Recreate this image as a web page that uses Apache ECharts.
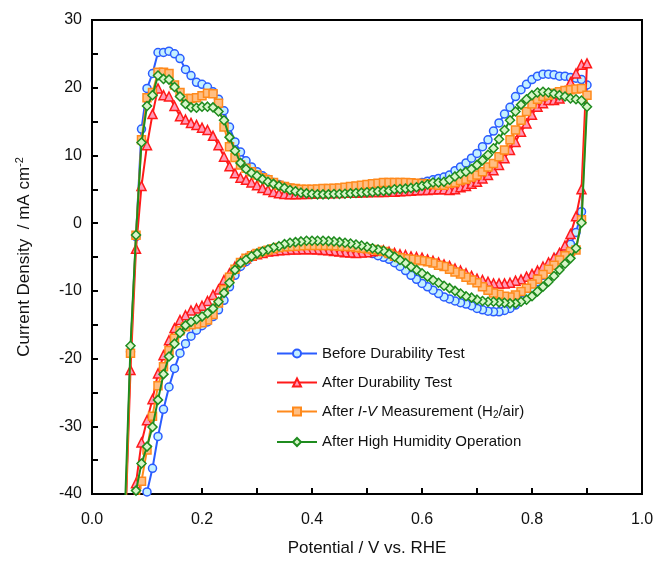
<!DOCTYPE html>
<html>
<head>
<meta charset="utf-8">
<script src="https://cdn.jsdelivr.net/npm/echarts@6/dist/echarts.min.js"></script>
<style>html,body{margin:0;padding:0;background:#fff;}#c{width:658px;height:563px;}</style>
</head>
<body>
<div id="c"></div>
<script>
// Potential grids (V vs. RHE)
var potAnodic = [0.06,0.07,0.08,0.09,0.10,0.11,0.12,0.13,0.14,0.15,0.16,0.17,0.18,0.19,0.20,0.21,0.22,0.23,0.24,0.25,0.26,0.27,0.28,0.29,0.30,0.31,0.32,0.33,0.34,0.35,0.36,0.37,0.38,0.39,0.40,0.41,0.42,0.43,0.44,0.45,0.46,0.47,0.48,0.49,0.50,0.51,0.52,0.53,0.54,0.55,0.56,0.57,0.58,0.59,0.60,0.61,0.62,0.63,0.64,0.65,0.66,0.67,0.68,0.69,0.70,0.71,0.72,0.73,0.74,0.75,0.76,0.77,0.78,0.79,0.80,0.81,0.82,0.83,0.84,0.85,0.86,0.87,0.88,0.89,0.90];
var potCathodic = [0.89,0.88,0.87,0.86,0.85,0.84,0.83,0.82,0.81,0.80,0.79,0.78,0.77,0.76,0.75,0.74,0.73,0.72,0.71,0.70,0.69,0.68,0.67,0.66,0.65,0.64,0.63,0.62,0.61,0.60,0.59,0.58,0.57,0.56,0.55,0.54,0.53,0.52,0.51,0.50,0.49,0.48,0.47,0.46,0.45,0.44,0.43,0.42,0.41,0.40,0.39,0.38,0.37,0.36,0.35,0.34,0.33,0.32,0.31,0.30,0.29,0.28,0.27,0.26,0.25,0.24,0.23,0.22,0.21,0.20,0.19,0.18,0.17,0.16,0.15,0.14,0.13,0.12,0.11,0.10,0.09,0.08,0.07];

// Current density (mA cm-2)
var beforeAnodic = [-45,-19,-2,13.9,19.9,22.1,25.2,25.2,25.4,25.0,24.3,22.7,21.8,20.8,20.5,20.1,19.4,18.3,16.6,14.2,12.0,10.5,9.2,8.3,7.6,7.0,6.5,6.0,5.7,5.4,5.2,5.0,4.9,4.8,4.7,4.7,4.7,4.7,4.7,4.7,4.8,4.8,4.9,4.9,5.0,5.0,5.1,5.1,5.2,5.3,5.4,5.5,5.6,5.8,6.0,6.2,6.4,6.6,6.8,7.1,7.75,8.3,8.9,9.6,10.3,11.3,12.3,13.6,14.8,16.1,17.1,18.7,19.7,20.5,21.2,21.7,22.0,22.0,21.9,21.7,21.7,21.5,21.4,21.2,20.4];
var beforeCathodic = [1.7,-1.4,-3.1,-4.1,-4.9,-5.7,-6.7,-7.7,-8.65,-9.6,-10.5,-11.4,-12.1,-12.6,-12.9,-13.1,-13.1,-13.0,-12.8,-12.6,-12.2,-11.95,-11.75,-11.5,-11.2,-10.9,-10.4,-9.9,-9.4,-8.9,-8.3,-7.7,-7.0,-6.4,-5.84,-5.35,-5.05,-4.8,-4.5,-4.3,-4.1,-3.9,-3.7,-3.55,-3.4,-3.3,-3.2,-3.15,-3.1,-3.1,-3.1,-3.15,-3.2,-3.3,-3.45,-3.6,-3.8,-4.0,-4.3,-4.6,-5.0,-5.7,-6.4,-7.7,-9.4,-11.4,-12.8,-13.8,-14.6,-15.15,-15.8,-16.7,-17.8,-19.2,-21.45,-24.2,-27.5,-31.5,-36.2,-39.7,-44,-48,-52];

var durAnodic = [-46,-21.7,-3.8,5.5,11.5,16.1,19.9,18.9,18.7,17.3,15.8,15.3,14.8,14.5,14.1,13.75,12.9,11.5,9.8,8.4,7.35,6.7,6.4,6.0,5.6,5.2,4.9,4.6,4.4,4.3,4.25,4.25,4.3,4.3,4.35,4.4,4.4,4.4,4.45,4.45,4.5,4.5,4.5,4.55,4.55,4.6,4.6,4.6,4.65,4.65,4.7,4.75,4.8,4.85,4.9,4.9,4.95,5.0,5.0,4.9,5.0,5.3,5.5,5.8,6.1,6.6,7.1,7.8,8.6,9.6,10.8,12.0,13.5,14.7,16.0,17.2,17.7,18.2,18.2,18.4,19.5,20.8,22.1,23.4,23.6];
var durCathodic = [5.0,1.0,-1.6,-3.3,-4.4,-5.1,-5.8,-6.4,-7.0,-7.5,-7.9,-8.3,-8.5,-8.8,-8.9,-8.9,-8.9,-8.65,-8.4,-8.2,-7.8,-7.4,-7.0,-6.7,-6.3,-6.1,-5.8,-5.55,-5.35,-5.1,-5.0,-4.9,-4.7,-4.6,-4.4,-4.2,-4.0,-4.05,-4.15,-4.3,-4.35,-4.4,-4.35,-4.3,-4.2,-4.1,-4.0,-3.95,-3.9,-3.85,-3.85,-3.85,-3.9,-3.9,-3.95,-4.0,-4.1,-4.2,-4.4,-4.6,-4.8,-5.2,-5.7,-6.4,-7.4,-8.4,-9.8,-10.6,-11.5,-12.2,-12.6,-12.9,-13.6,-14.3,-15.5,-17.3,-19.5,-22.2,-26.0,-29.1,-32.4,-38.4,-45];

var ivAnodic = [-45,-19.2,-1.8,12.3,18.5,19.3,22.3,22.3,22.1,20.4,19.3,18.4,18.4,18.5,18.8,19.2,19.1,17.7,14.2,11.3,9.7,8.6,8.1,7.6,7.1,6.7,6.4,6.0,5.6,5.4,5.2,5.1,5.0,5.0,5.0,5.05,5.1,5.1,5.15,5.2,5.3,5.4,5.5,5.6,5.7,5.8,5.9,6.0,6.0,6.0,6.0,6.0,5.95,5.9,5.85,5.8,5.7,5.6,5.6,5.9,6.0,6.3,6.5,6.8,7.1,7.6,8.3,8.8,9.8,10.8,12.3,13.75,15.2,16.5,17.6,18.3,18.7,18.9,19.2,19.4,19.6,19.7,19.8,19.9,18.9];
var ivCathodic = [0.5,-3.97,-4.2,-4.8,-5.45,-6.2,-6.8,-7.6,-8.3,-9.0,-9.6,-10.1,-10.6,-10.9,-10.8,-10.5,-10.3,-9.9,-9.4,-8.8,-8.4,-8.0,-7.5,-7.2,-6.8,-6.4,-6.2,-5.9,-5.7,-5.55,-5.45,-5.35,-5.25,-5.1,-4.9,-4.5,-4.2,-4.0,-3.9,-3.8,-3.7,-3.6,-3.5,-3.45,-3.4,-3.35,-3.3,-3.3,-3.3,-3.3,-3.3,-3.35,-3.4,-3.45,-3.5,-3.6,-3.8,-4.0,-4.2,-4.5,-4.8,-5.2,-5.8,-6.8,-8.0,-9.8,-11.8,-13.5,-14.3,-14.7,-14.9,-15.0,-15.3,-15.9,-17.0,-18.8,-21.2,-24.0,-28.5,-33.5,-38.1,-43,-48];

var humAnodic = [-42,-18.1,-1.75,11.9,17.3,18.9,21.8,21.3,21.2,20.1,18.7,17.6,17.1,17.05,17.2,17.2,17.1,16.5,15.2,12.7,10.7,8.9,8.0,7.4,7.0,6.5,6.1,5.8,5.5,5.2,4.9,4.7,4.5,4.4,4.3,4.25,4.25,4.25,4.3,4.3,4.35,4.4,4.45,4.5,4.55,4.6,4.7,4.75,4.8,5.0,5.05,5.1,5.2,5.3,5.5,5.7,6.0,6.0,6.1,6.4,6.9,7.3,7.6,8.0,8.6,9.3,10.1,11.05,12.4,13.75,15.2,16.5,17.5,18.3,18.9,19.3,19.4,19.3,19.1,18.9,18.7,18.4,18.3,18.1,17.2];
var humCathodic = [0.06,-3.7,-5.2,-6.0,-6.9,-7.8,-8.65,-9.4,-10.1,-10.8,-11.3,-11.6,-11.85,-11.85,-11.75,-11.7,-11.6,-11.6,-11.5,-11.3,-11.0,-10.8,-10.4,-10.0,-9.6,-9.25,-8.8,-8.4,-7.9,-7.4,-6.9,-6.45,-5.9,-5.45,-4.95,-4.5,-4.07,-3.9,-3.7,-3.5,-3.3,-3.15,-3.0,-2.9,-2.8,-2.7,-2.65,-2.6,-2.6,-2.6,-2.6,-2.7,-2.8,-2.9,-3.1,-3.4,-3.6,-3.9,-4.2,-4.5,-4.9,-5.4,-5.9,-6.9,-8.8,-10.3,-11.6,-12.6,-13.3,-13.8,-14.2,-14.6,-15.1,-16.2,-17.8,-19.7,-22.3,-26.1,-30.1,-33.0,-35.5,-39.5,-45];

var seriesNames = ['Before Durability Test','After Durability Test','After I-V Measurement (H2/air)','After High Humidity Operation'];
var xTicks = [0.0,0.2,0.4,0.6,0.8,1.0];
var yTicks = [-40,-30,-20,-10,0,10,20,30];

function loop(an, ca) {
  var d = [];
  for (var i = 0; i < potAnodic.length; i++) d.push([potAnodic[i], an[i]]);
  for (var j = 0; j < potCathodic.length; j++) d.push([potCathodic[j], ca[j]]);
  return d;
}

var styles = [
  {line:'#2a5cff', fill:'#c4f0ff', symbol:'circle', size:8},
  {line:'#ff1a1a', fill:'#ff9ab8', symbol:'triangle', size:9},
  {line:'#ff8a1c', fill:'#ffbe82', symbol:'rect', size:8},
  {line:'#1f8c1f', fill:'#d8f5c8', symbol:'diamond', size:9}
];
var datas = [loop(beforeAnodic,beforeCathodic), loop(durAnodic,durCathodic), loop(ivAnodic,ivCathodic), loop(humAnodic,humCathodic)];

var FONT = 'Liberation Sans, Arial, sans-serif';
var TXT = '#111';
var chart = echarts.init(document.getElementById('c'), null, {renderer:'canvas'});
chart.setOption({
  animation: false,
  backgroundColor: '#fff',
  grid: {left: 92, right: 16, top: 20, bottom: 69, show: true, borderColor: '#000', borderWidth: 2, backgroundColor: 'transparent'},
  xAxis: {
    type: 'value', min: xTicks[0], max: xTicks[xTicks.length-1], interval: 0.2,
    name: 'Potential / V vs. RHE', nameLocation: 'middle', nameGap: 46,
    nameTextStyle: {fontFamily: FONT, fontSize: 17, color: TXT},
    axisLine: {show: true, onZero: false, lineStyle: {color: '#000', width: 2}},
    axisTick: {show: true, inside: true, length: 6, lineStyle: {color: '#000', width: 2}},
    minorTick: {show: true, splitNumber: 2, length: 6, lineStyle: {color: '#000', width: 2}},
    axisLabel: {fontFamily: FONT, fontSize: 16, color: TXT, margin: 18, formatter: function(v){return v.toFixed(1);}},
    splitLine: {show: false}
  },
  yAxis: {
    type: 'value', min: yTicks[0], max: yTicks[yTicks.length-1], interval: 10,
    name: 'Current Density  / mA cm{sup|-2}', nameLocation: 'middle', nameGap: 58, nameRotate: 90,
    nameTextStyle: {fontFamily: FONT, fontSize: 17, color: TXT,
      rich: {sup: {fontFamily: FONT, fontSize: 11, color: TXT, verticalAlign: 'top', padding: [0,0,9,0]}}},
    axisLine: {show: true, onZero: false, lineStyle: {color: '#000', width: 2}},
    axisTick: {show: true, inside: true, length: 6, lineStyle: {color: '#000', width: 2}},
    minorTick: {show: true, splitNumber: 2, length: 6, lineStyle: {color: '#000', width: 2}},
    axisLabel: {fontFamily: FONT, fontSize: 16, color: TXT, margin: 10},
    splitLine: {show: false}
  },
  legend: {
    orient: 'vertical', left: 271, top: 341,
    itemWidth: 40, itemHeight: 10, itemGap: 14,
    data: seriesNames,
    formatter: function(name){
      if (name.indexOf('I-V') >= 0) return 'After {i|I-V} Measurement (H{sub|2}/air)';
      return name;
    },
    textStyle: {fontFamily: FONT, fontSize: 15, color: TXT, padding: [0,0,0,0],
      rich: {
        i: {fontFamily: FONT, fontSize: 15, color: TXT, fontStyle: 'italic'},
        sub: {fontFamily: FONT, fontSize: 10, color: TXT, verticalAlign: 'bottom', padding: [8,0,0,0]}
      }}
  },
  series: seriesNames.map(function(n, k){
    var s = styles[k];
    return {
      name: n, type: 'line', data: datas[k], clip: true,
      symbol: s.symbol, symbolSize: s.size,
      showAllSymbol: true,
      lineStyle: {color: s.line, width: 2},
      itemStyle: {color: s.fill, borderColor: s.line, borderWidth: 1.5},
      z: 2 + k
    };
  })
});
</script>
</body>
</html>
